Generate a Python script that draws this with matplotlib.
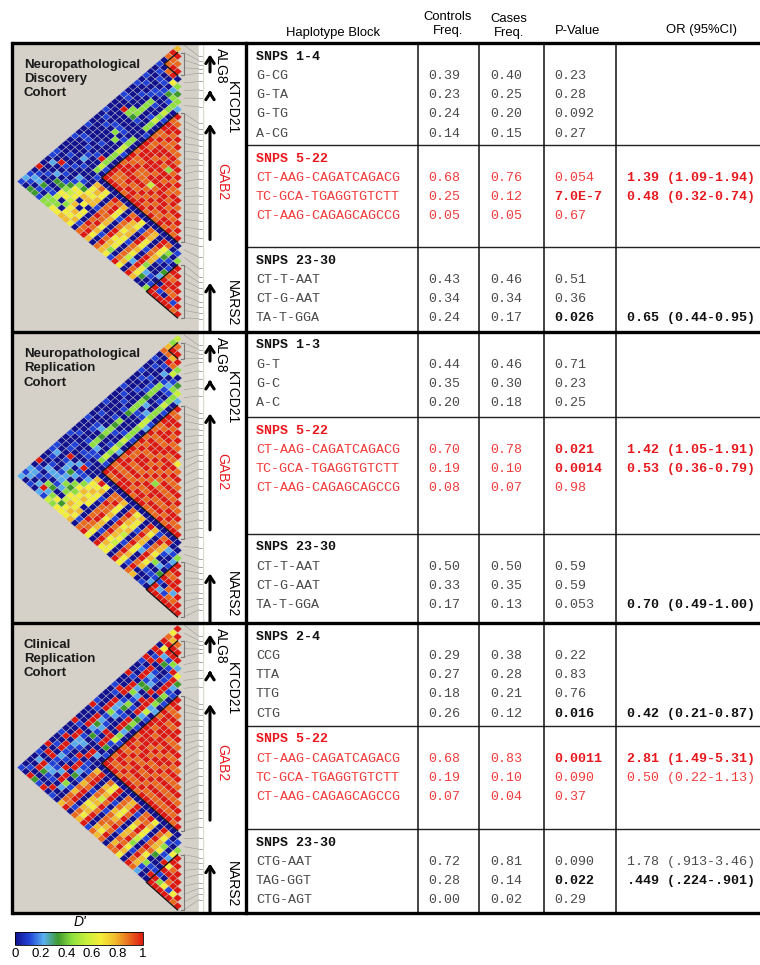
import numpy as np
import matplotlib.pyplot as plt
from matplotlib.colors import LinearSegmentedColormap, Normalize
from matplotlib.cm import ScalarMappable
from matplotlib.collections import PolyCollection
from matplotlib.patches import Rectangle

plt.rcParams['font.family'] = ['Liberation Sans', 'DejaVu Sans']

# D' per SNP pair, one digit each (0 -> D' 0 ... 9 -> D' 1)
# row i lists pairs (i, j) for j = i+1 .. 36 ; spaces only group the columns
ld_discovery = [
    "79801001 010010001 000100100 01 10090121",
    "9880100 100010000 100001000 00 02001210",
    "898010 001000900 010001000 10 90010203",
    "99010 110004400 100000100 00 10200313",
    "0601 104444300 140010012 01 01030101",
    "423 001000100 104000100 10 00130144",
    "34 100010000 010000900 00 21346544",
    "4 445454400 445544454 00 14656046",
    "200100010 000100010 10 03665406",
    "98998899 989989999 07 66707667",
    "89989889 98899889 08 76760767",
    "9898999 98999889 06 67706676",
    "988998 99889989 00 00100010",
    "98989 99889898 09 88898988",
    "8998 98989899 08 99889899",
    "894 99958989 07 66776767",
    "9898989899 00 01000100",
    "989998989 08 98899898",
    "98899898 09 77676777",
    "8989989 06 67766646",
    "998988 00 10010001",
    "89899 08 89988889",
    "9898 07 76676576",
    "989 00 00100200",
    "98 09 98899989",
    "9 08 66774667",
    "00 43100230",
    "1 01000100",
    "40132014",
    "9989099",
    "989919",
    "99809",
    "9899",
    "919",
    "98",
    "9",
]

ld_replication = [
    "54780100 100010001 000100010 01 10090212",
    "8980010 010001000 010000100 00 21001220",
    "979100 100100100 000110001 10 00120101",
    "98020 011000010 100200100 09 10021020",
    "4501 444344430 434434401 00 22120492",
    "012 100020100 001000211 02 03221321",
    "34 101002100 010010010 19 12042045",
    "5 445444554 445454540 00 10434064",
    "200100120 010020010 00 24646536",
    "98998898 989989899 07 66766766",
    "89989898 98899898 09 67676676",
    "9899899 89989898 06 76660767",
    "989899 89989899 00 01000010",
    "98998 98989899 08 89888988",
    "8989 89898989 08 98899889",
    "989 98989898 07 66767766",
    "6989849899 00 00100100",
    "898989989 08 98989899",
    "98989898 06 77677676",
    "8989898 07 66756566",
    "989898 00 01001000",
    "98989 09 89898989",
    "8998 07 67766766",
    "989 01 00120010",
    "89 08 98899898",
    "9 09 77676707",
    "00 21040100",
    "0 10020101",
    "42103120",
    "9989199",
    "989029",
    "99819",
    "9289",
    "989",
    "99",
    "9",
]

ld_clinical = [
    "96890909 100900100 019000900 10 09010001",
    "9796919 010100910 001000100 90 10902010",
    "899290 999099909 990999099 09 90909909",
    "99130 121324012 241232012 21 12112303",
    "9410 012302143 120121302 10 01012101",
    "291 100909010 100090100 09 10920109",
    "69 999099990 999099909 90 99099090",
    "3 214342523 432451302 01 12304201",
    "010102010 100010010 00 10101000",
    "99898999 989989899 07 88787887",
    "98999899 98989989 09 99899989",
    "8989989 99898989 00 00100010",
    "989999 89989898 08 78876788",
    "99898 98989989 06 67576767",
    "9899 89898989 09 99898999",
    "898 99898989 00 01010001",
    "9898989898 08 88788878",
    "989898989 07 76678767",
    "89898989 09 98989898",
    "9898989 00 10001000",
    "898989 08 87677878",
    "98989 09 89989898",
    "8989 06 76654676",
    "989 00 00100100",
    "98 09 89898989",
    "9 07 67786778",
    "00 14630412",
    "1 00100100",
    "46290190",
    "9969199",
    "989049",
    "99869",
    "9919",
    "969",
    "98",
    "9",
]

# haplotype blocks drawn on each map (first SNP, last SNP)
ld_blocks = [[(1, 4), (9, 26), (29, 36)],
             [(1, 3), (9, 26), (29, 36)],
             [(2, 4), (9, 26), (29, 36)]]

# where each SNP sits on the gene track (0 = top of panel, 1 = bottom)
snp_track = [0.03, 0.045, 0.06, 0.075, 0.09, 0.12, 0.15, 0.18, 0.21,
             0.27, 0.29, 0.31, 0.33, 0.35, 0.375, 0.40, 0.42, 0.44,
             0.47, 0.50, 0.53, 0.56, 0.59, 0.62, 0.65, 0.68, 0.71,
             0.75, 0.79, 0.82, 0.84, 0.86, 0.88, 0.91, 0.93, 0.95, 0.97]

genes = ['ALG8', 'KTCD21', 'GAB2', 'NARS2']
gene_head = [0.04, 0.165, 0.28, 0.83]
gene_tail = [0.10, 0.175, 0.68, 1.0]
gene_label_y = [0.01, 0.225, 0.48, 0.90]
gene_label_x = [221, 232, 222, 232]
gene_color = ['black', 'black', '#e8191e', 'black']

cohorts = ['Neuropathological\nDiscovery\nCohort',
           'Neuropathological\nReplication\nCohort',
           'Clinical\nReplication\nCohort']

# table ('*' = printed in bold)
block_titles = [['SNPS 1-4', 'SNPS 5-22', 'SNPS 23-30'],
                ['SNPS 1-3', 'SNPS 5-22', 'SNPS 23-30'],
                ['SNPS 2-4', 'SNPS 5-22', 'SNPS 23-30']]

haplotypes = [
    [['G-CG', 'G-TA', 'G-TG', 'A-CG'],
     ['CT-AAG-CAGATCAGACG', 'TC-GCA-TGAGGTGTCTT', 'CT-AAG-CAGAGCAGCCG'],
     ['CT-T-AAT', 'CT-G-AAT', 'TA-T-GGA']],
    [['G-T', 'G-C', 'A-C'],
     ['CT-AAG-CAGATCAGACG', 'TC-GCA-TGAGGTGTCTT', 'CT-AAG-CAGAGCAGCCG'],
     ['CT-T-AAT', 'CT-G-AAT', 'TA-T-GGA']],
    [['CCG', 'TTA', 'TTG', 'CTG'],
     ['CT-AAG-CAGATCAGACG', 'TC-GCA-TGAGGTGTCTT', 'CT-AAG-CAGAGCAGCCG'],
     ['CTG-AAT', 'TAG-GGT', 'CTG-AGT']],
]
controls_freq = [
    [['0.39', '0.23', '0.24', '0.14'], ['0.68', '0.25', '0.05'], ['0.43', '0.34', '0.24']],
    [['0.44', '0.35', '0.20'], ['0.70', '0.19', '0.08'], ['0.50', '0.33', '0.17']],
    [['0.29', '0.27', '0.18', '0.26'], ['0.68', '0.19', '0.07'], ['0.72', '0.28', '0.00']],
]
cases_freq = [
    [['0.40', '0.25', '0.20', '0.15'], ['0.76', '0.12', '0.05'], ['0.46', '0.34', '0.17']],
    [['0.46', '0.30', '0.18'], ['0.78', '0.10', '0.07'], ['0.50', '0.35', '0.13']],
    [['0.38', '0.28', '0.21', '0.12'], ['0.83', '0.10', '0.04'], ['0.81', '0.14', '0.02']],
]
p_values = [
    [['0.23', '0.28', '0.092', '0.27'], ['0.054', '*7.0E-7', '0.67'], ['0.51', '0.36', '*0.026']],
    [['0.71', '0.23', '0.25'], ['*0.021', '*0.0014', '0.98'], ['0.59', '0.59', '0.053']],
    [['0.22', '0.83', '0.76', '*0.016'], ['*0.0011', '0.090', '0.37'], ['0.090', '*0.022', '0.29']],
]
odds_ratios = [
    [['', '', '', ''], ['*1.39 (1.09-1.94)', '*0.48 (0.32-0.74)', ''], ['', '', '*0.65 (0.44-0.95)']],
    [['', '', ''], ['*1.42 (1.05-1.91)', '*0.53 (0.36-0.79)', ''], ['', '', '*0.70 (0.49-1.00)']],
    [['', '', '', '*0.42 (0.21-0.87)'], ['*2.81 (1.49-5.31)', '0.50 (0.22-1.13)', ''],
     ['1.78 (.913-3.46)', '*.449 (.224-.901)', '']],
]

# colour scale of the LD maps
ld_colors = ['#12128e', '#2244d8', '#5ab0f0', '#3f9a2e', '#8fe040',
             '#c8ef3c', '#f2ee3a', '#f2be2e', '#ea6c1e', '#dd1a12']
ld_cmap = LinearSegmentedColormap.from_list('dprime', ld_colors)
ld_norm = Normalize(0, 1)

# layout (pixels)
panel_top = [43, 332, 623]
panel_bot = [332, 623, 913]
group_sep = [[43, 145, 247], [332, 417, 534], [623, 726, 829]]
tri_top = [45, 335, 625]
tri_bot = [318, 617, 910]
tri_left = 17
tri_right = 182
track_x = 200
col_x = [256, 428, 490, 554, 627]
row_step = 19.3

fig = plt.figure(figsize=(7.6, 9.65), dpi=100)
ax = fig.add_axes([0, 0, 1, 1])
ax.set_xlim(0, 760)
ax.set_ylim(965, 0)
ax.axis('off')

grey_txt = '#4a4a4a'
red_txt = '#f03c3c'
red_bold = '#e8191e'
mono = ['Liberation Mono', 'DejaVu Sans Mono']


def draw_ld(rows, top, bottom, blocks, ptop, pbot):
    n = len(rows) + 1
    sx = 2 * (tri_right - tri_left) / n
    right = tri_right - sx / 2
    sy = (bottom - top) / (n - 1)

    def node(a, b):
        return (right - (b - a - 1) * sx / 2, top + (a + b - 1) / 2 * sy)

    verts, vals = [], []
    for i, r in enumerate(rows):
        r = r.replace(' ', '')
        if len(r) != n - 1 - i:
            raise ValueError('row %d has %d values' % (i, len(r)))
        for k, c in enumerate(r):
            j = i + 1 + k
            verts.append([node(i, j), node(i + 1, j), node(i + 1, j + 1), node(i, j + 1)])
            vals.append(int(c) / 9)
    pc = PolyCollection(verts, array=np.array(vals), cmap=ld_cmap, norm=ld_norm,
                        edgecolors='#d6d6d6', linewidths=0.25, zorder=2)
    ax.add_collection(pc)
    # block outlines and brackets
    for s, e in blocks:
        ax.plot([right, right - (e - s) * sx / 2, right],
                [top + s * sy, top + (s + e) / 2 * sy, top + e * sy],
                color='#111111', lw=0.9, zorder=3)
        xb = tri_right + 1.5
        ax.plot([xb - 3, xb, xb, xb - 3], [top + s * sy, top + s * sy, top + e * sy, top + e * sy],
                color='#7a7a7a', lw=0.8, zorder=3)
    # lines to the gene track
    h = pbot - ptop
    for k in range(n):
        ty = ptop + 5 + snp_track[k] * (h - 10)
        ax.plot([tri_right + 2, track_x - 1], [top + k * sy, ty], color='#a0a0a0', lw=0.45, zorder=2)
        ax.plot([track_x - 1.5, track_x + 1.5], [ty, ty], color='#9a9a9a', lw=0.6, zorder=3)


for p in range(3):
    ptop, pbot = panel_top[p], panel_bot[p]
    h = pbot - ptop
    ax.add_patch(Rectangle((12, ptop), track_x + 3 - 12, h, color='#d5d1c9', zorder=0))
    ax.add_patch(Rectangle((track_x - 1, ptop), 2.5, h, color='white', zorder=1))
    draw_ld([ld_discovery, ld_replication, ld_clinical][p], tri_top[p], tri_bot[p],
            ld_blocks[p], ptop, pbot)
    ax.text(24, ptop + 16, cohorts[p], fontsize=9.5, fontweight='bold', va='top',
            ha='left', linespacing=1.25, color='#1a1a1a', zorder=4)
    # genes
    for g in range(4):
        head = ptop + gene_head[g] * h
        tail = ptop + gene_tail[g] * h
        ax.annotate('', xy=(210, head), xytext=(210, tail),
                    arrowprops=dict(arrowstyle='->,head_length=0.45,head_width=0.3',
                                    lw=2.2, color='black', shrinkA=0, shrinkB=0), zorder=4)
        va = 'top' if g == 0 else 'center'
        ax.text(gene_label_x[g], ptop + gene_label_y[g] * h + (2 if g == 0 else 0), genes[g],
                rotation=-90, fontsize=10, ha='center', va=va, color=gene_color[g], zorder=4)
    # table
    for gi in range(3):
        red = gi == 1
        y0 = group_sep[p][gi] + 13.5
        ax.text(col_x[0], y0, block_titles[p][gi], family=mono, fontsize=9.6, fontweight='bold',
                color=red_bold if red else '#111111', va='center', ha='left')
        cols = [haplotypes[p][gi], controls_freq[p][gi], cases_freq[p][gi],
                p_values[p][gi], odds_ratios[p][gi]]
        for k in range(len(cols[0])):
            y = y0 + row_step * (k + 1)
            for c in range(5):
                s = cols[c][k]
                bold = s.startswith('*')
                s = s.lstrip('*')
                if bold:
                    color = red_bold if red else '#111111'
                else:
                    color = red_txt if red else grey_txt
                ax.text(col_x[c], y, s, family=mono, fontsize=9.6,
                        fontweight='bold' if bold else 'normal', color=color,
                        va='center', ha='left')
    # thin row separators
    for y in group_sep[p][1:]:
        ax.plot([246, 760], [y, y], color='#222222', lw=1.0, zorder=5)

# frame
for y in panel_top + [913]:
    ax.plot([12, 760], [y, y], color='black', lw=2.4, zorder=6, solid_capstyle='butt')
ax.plot([12, 12], [43, 913], color='black', lw=2.4, zorder=6)
ax.plot([246, 246], [43, 913], color='black', lw=2.4, zorder=6)
for x in [418, 479, 544, 616]:
    ax.plot([x, x], [43, 913], color='#111111', lw=1.1, zorder=5)

# header
ax.text(333, 33, 'Haplotype Block', fontsize=9.4, ha='center', va='center')
ax.text(448, 24, 'Controls\nFreq.', fontsize=9.4, ha='center', va='center', linespacing=1.25)
ax.text(509, 26, 'Cases\nFreq.', fontsize=9.4, ha='center', va='center', linespacing=1.25)
ax.text(578, 31, 'P-Value', fontsize=9.4, ha='center', va='center')
ax.text(702, 30, 'OR (95%CI)', fontsize=9.4, ha='center', va='center')

# colour bar
cax = fig.add_axes([15 / 760, 1 - 945 / 965, 128 / 760, 13 / 965])
cb = fig.colorbar(ScalarMappable(norm=ld_norm, cmap=ld_cmap), cax=cax, orientation='horizontal')
cb.set_ticks([0, 0.2, 0.4, 0.6, 0.8, 1])
cb.set_ticklabels(['0', '0.2', '0.4', '0.6', '0.8', '1'])
cax.tick_params(length=0, labelsize=9.5, pad=2)
cb.outline.set_linewidth(0.6)
ax.text(80, 922, "D'", fontsize=10, style='italic', ha='center', va='center')

fig.savefig('out.png', dpi=100)
